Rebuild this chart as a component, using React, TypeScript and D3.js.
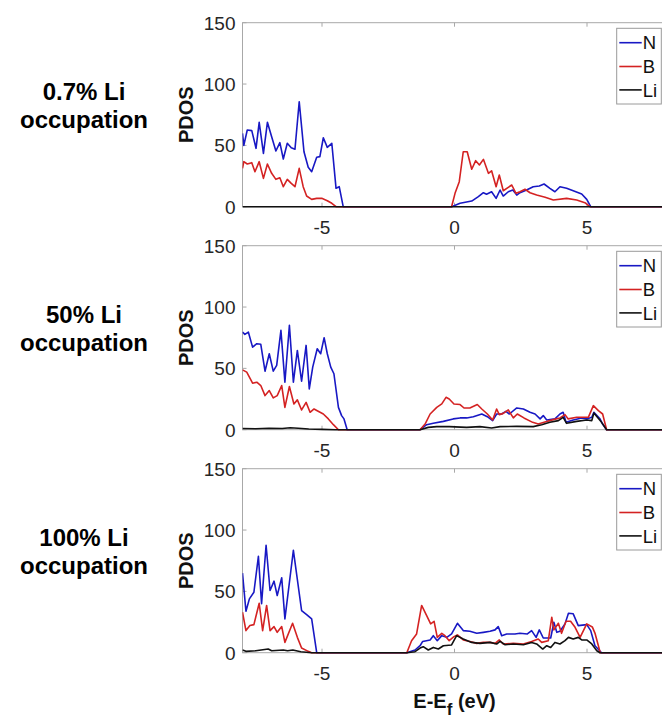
import React from "react";
import * as d3 from "d3";

type Pt = [number, number];

// Panel row labels
const PANEL_LABELS: string[][] = [
  ["0.7% Li", "occupation"],
  ["50% Li", "occupation"],
  ["100% Li", "occupation"],
];
const SERIES_NAMES = ["N", "B", "Li"];
const SERIES_COLORS = ["#1818c4", "#d42222", "#111111"];
const X_TICKS = [-5, 0, 5];
const Y_TICKS = [0, 50, 100, 150];

// 0.7% Li occupation: [energy (eV), PDOS]
const occ07N: Pt[] = [
  [-8, 59.8], [-7.95, 50], [-7.82, 62.5], [-7.65, 62], [-7.49, 47.6], [-7.37, 68.8], [-7.21, 43.5],
  [-7.06, 68.8], [-6.9, 57], [-6.74, 45.4], [-6.59, 52.2], [-6.46, 38.9], [-6.31, 51.7], [-6.16, 48],
  [-6.02, 46.8], [-5.86, 85.6], [-5.68, 44.8], [-5.52, 32.1], [-5.39, 28.5], [-5.2, 40.3], [-5.08, 40.8],
  [-4.95, 56.2], [-4.8, 48.4], [-4.63, 51.7], [-4.47, 15], [-4.35, 16.3], [-4.2, 0],
  [-0.11, 0], [0.21, 2.8], [0.65, 4.6], [0.9, 8.2], [1.09, 11.4], [1.21, 10.1], [1.4, 12.2], [1.57, 6.8],
  [1.72, 13.6], [1.84, 8.7], [2.03, 12.2], [2.2, 13.6], [2.35, 9.5], [2.47, 11.4], [2.72, 13.6],
  [2.97, 16.3], [3.2, 16.9], [3.38, 18.5], [3.6, 15], [3.79, 12.2], [3.98, 16.3], [4.23, 15], [4.48, 13],
  [4.8, 10.4], [4.99, 6], [5.14, 0], [8, 0],
];
const occ07B: Pt[] = [
  [-8, 31.3], [-7.95, 36.7], [-7.82, 34.8], [-7.65, 35.9], [-7.53, 28.5], [-7.37, 36.7], [-7.21, 23.1],
  [-7.06, 34.8], [-6.9, 27.2], [-6.74, 22.3], [-6.59, 23.6], [-6.46, 16.3], [-6.31, 22.3], [-6.16, 19],
  [-6.02, 16.3], [-5.86, 31.3], [-5.71, 16.3], [-5.58, 8.7], [-5.39, 6], [-5.2, 6.8], [-5.01, 6.8],
  [-4.8, 4.9], [-4.63, 2.8], [-4.47, 0],
  [-0.11, 0], [0.02, 10.9], [0.18, 20.4], [0.33, 44.8], [0.48, 44.8], [0.65, 30.5], [0.8, 37.5],
  [0.94, 34], [1.09, 38.6], [1.28, 27.2], [1.4, 29.3], [1.57, 16.3], [1.69, 25.8], [1.84, 13],
  [2.03, 15.8], [2.16, 17.7], [2.32, 10.9], [2.47, 12.2], [2.66, 14.2], [2.85, 11.4], [3.1, 9.5],
  [3.42, 7.7], [3.73, 5.5], [4.23, 6.8], [4.61, 5.5], [4.92, 3.3], [5.11, 0], [8, 0],
];
const occ07Li: Pt[] = [[-8, 0], [8, 0]];

// 50% Li occupation
const occ50N: Pt[] = [
  [-8, 79.6], [-7.91, 77.7], [-7.78, 79.6], [-7.62, 67.3], [-7.46, 70.1], [-7.31, 69.6], [-7.15, 47.7],
  [-6.99, 61.9], [-6.84, 47.7], [-6.71, 52.4], [-6.55, 81], [-6.4, 38.7], [-6.23, 85.1], [-6.08, 38.7],
  [-5.93, 64.6], [-5.77, 39.5], [-5.6, 68.7], [-5.48, 33.3], [-5.35, 51], [-5.18, 66], [-5.05, 61.9],
  [-4.92, 75], [-4.8, 61.9], [-4.67, 51], [-4.55, 45.6], [-4.38, 18.2], [-4.26, 11.5], [-4.17, 8.8],
  [-4.05, 0],
  [-1.3, 0], [-1.05, 4.1], [-0.8, 5.2], [-0.42, 6.8], [-0.05, 8.8], [0.21, 9.6], [0.46, 9.6],
  [0.71, 10.6], [1.03, 12.8], [1.24, 10.6], [1.44, 7.4], [1.59, 12.8], [1.78, 12.8], [1.94, 15],
  [2.07, 12.8], [2.35, 17.7], [2.6, 16.9], [2.85, 14.2], [3.04, 12.8], [3.23, 8.8], [3.35, 11.5],
  [3.48, 7.9], [3.79, 8.8], [3.98, 12.8], [4.1, 14.2], [4.21, 6], [4.48, 7.9], [4.8, 9.5], [4.99, 8.8],
  [5.18, 10.1], [5.26, 14.2], [5.49, 8.8], [5.59, 4.6], [5.74, 0], [8, 0],
];
const occ50B: Pt[] = [
  [-8, 48.8], [-7.84, 46.9], [-7.62, 37.9], [-7.46, 38.7], [-7.31, 36], [-7.15, 27.8], [-6.99, 31.9],
  [-6.84, 25.9], [-6.69, 27.8], [-6.52, 36], [-6.4, 18.2], [-6.23, 35.2], [-6.06, 21], [-5.93, 24.3],
  [-5.77, 16.1], [-5.6, 22.3], [-5.45, 14.2], [-5.3, 16.9], [-5.18, 15.5], [-4.95, 12.8], [-4.76, 8.8],
  [-4.57, 4.1], [-4.38, 0],
  [-1.3, 0], [-1.11, 4.6], [-0.92, 12.8], [-0.67, 18.2], [-0.48, 21], [-0.32, 26.4], [-0.2, 25],
  [-0.02, 21], [0.21, 20.5], [0.36, 17.7], [0.58, 17.7], [0.86, 20.5], [1.03, 16.9], [1.24, 12.8],
  [1.44, 7.9], [1.59, 16.9], [1.69, 12.3], [1.84, 13.3], [2.03, 16.1], [2.22, 9.6], [2.37, 12.8],
  [2.62, 9.6], [2.95, 6], [3.16, 4.6], [3.38, 6], [3.73, 8.2], [3.98, 9.6], [4.17, 12.3], [4.29, 8.8],
  [4.61, 10.1], [5.05, 10.1], [5.24, 19.6], [5.43, 15.5], [5.59, 12.8], [5.74, 0], [8, 0],
];
const occ50Li: Pt[] = [
  [-8, 1], [-7.5, 0.8], [-7, 1.2], [-6.5, 1], [-6.2, 1.6], [-5.9, 1.2], [-5.5, 0.6], [-5, 0.3], [-4.5, 0],
  [-1.3, 0], [-0.99, 1.9], [-0.67, 2.5], [-0.2, 2.5], [0.46, 1.9], [0.96, 2.5], [1.4, 1.4], [1.72, 2.5],
  [2.35, 2.7], [2.97, 2.5], [3.29, 4.1], [3.6, 6], [3.92, 7.4], [4.1, 10.1], [4.23, 5.2], [4.61, 6.8],
  [4.99, 7.9], [5.18, 7.4], [5.26, 13.6], [5.55, 6], [5.74, 0], [8, 0],
];

// 100% Li occupation
const occ100N: Pt[] = [
  [-8, 64.9], [-7.87, 33.8], [-7.74, 43.9], [-7.57, 49.3], [-7.4, 78.6], [-7.28, 39.9], [-7.11, 87.6],
  [-6.96, 50.7], [-6.81, 58.3], [-6.69, 46.6], [-6.52, 61.1], [-6.4, 27.6], [-6.08, 83.5],
  [-5.77, 34.4], [-5.58, 31.1], [-5.39, 27.6], [-5.2, 0],
  [-1.8, 0], [-1.49, 2.2], [-1.3, 5.7], [-1.2, 9.2], [-0.92, 10.4], [-0.8, 13.9], [-0.65, 9.8],
  [-0.48, 13.9], [-0.29, 12.5], [-0.11, 15.3], [0.11, 24], [0.33, 18], [0.58, 17.5], [0.84, 15.8],
  [1.09, 16.6], [1.34, 17.5], [1.53, 18.6], [1.65, 21.3], [1.78, 13.9], [1.97, 15.3], [2.28, 15.3],
  [2.47, 15.8], [2.75, 15.3], [2.91, 18], [3.08, 12.5], [3.2, 18.6], [3.35, 12], [3.63, 12],
  [3.75, 24.8], [3.86, 16.6], [3.98, 17.5], [4.17, 23.5], [4.3, 32.2], [4.48, 31.7], [4.67, 22.1],
  [4.99, 22.9], [5.14, 18], [5.3, 5.7], [5.55, 0], [8, 0],
];
const occ100B: Pt[] = [
  [-8, 33], [-7.87, 18], [-7.72, 22.1], [-7.57, 22.9], [-7.37, 40.3], [-7.24, 18], [-7.09, 38.5],
  [-6.96, 18], [-6.81, 21.3], [-6.69, 16.6], [-6.52, 21.3], [-6.4, 8.4], [-6.11, 24], [-5.93, 12.5],
  [-5.77, 3.8], [-5.52, 1.1], [-5.39, 0],
  [-1.8, 0], [-1.62, 9.8], [-1.43, 15.3], [-1.24, 38.5], [-1.05, 30.3], [-0.9, 23.5], [-0.77, 25.6],
  [-0.65, 12.5], [-0.48, 15.8], [-0.36, 13.9], [-0.2, 9.8], [-0.02, 13.1], [0.11, 14.5], [0.33, 10.4],
  [0.58, 9.2], [0.84, 7.6], [1.09, 8.4], [1.34, 8.4], [1.53, 7.6], [1.69, 10.4], [1.84, 7.1],
  [2.22, 7.6], [2.6, 7.1], [2.91, 9.2], [3.16, 11.2], [3.29, 8.4], [3.54, 9.8], [3.67, 28.9],
  [3.75, 18.6], [3.92, 24], [4.04, 15.8], [4.21, 25.6], [4.38, 25.6], [4.55, 20.7], [4.74, 12.5],
  [4.99, 23.5], [5.2, 21], [5.3, 16], [5.5, 0], [8, 0],
];
const occ100Li: Pt[] = [
  [-8, 2.2], [-7.87, 1.1], [-7.5, 1.6], [-7.03, 3], [-6.9, 1.6], [-6.46, 2.2], [-6.3, 1.6], [-6.1, 2.2],
  [-5.8, 0.8], [-5.39, 0],
  [-1.8, 0], [-1.49, 0.8], [-1.3, 3.8], [-1.18, 4.9], [-0.99, 2.2], [-0.8, 4.3], [-0.61, 3], [-0.42, 5.7],
  [-0.11, 6.3], [0.08, 13.9], [0.33, 11.2], [0.65, 8.4], [0.96, 7.6], [1.34, 8.4], [1.59, 7.1],
  [1.72, 9.2], [1.91, 6.5], [2.22, 7.1], [2.6, 6.5], [2.91, 8.4], [3.1, 7.1], [3.33, 3], [3.48, 5.7],
  [3.63, 4.3], [3.79, 8.4], [3.98, 7.1], [4.17, 9.8], [4.3, 12.5], [4.48, 11.2], [4.67, 12.5],
  [4.8, 10.4], [4.99, 10.4], [5.18, 7.1], [5.37, 1.6], [5.49, 0], [8, 0],
];

const PANEL_SERIES: Pt[][][] = [
  [occ07N, occ07B, occ07Li],
  [occ50N, occ50B, occ50Li],
  [occ100N, occ100B, occ100Li],
];

const W = 662;
const H = 719;
const PLOT_LEFT = 242.5;
const PLOT_RIGHT = 666.5;
const PANEL_TOPS = [22.7, 245.7, 468.7];
const PANEL_H = 184;
const FONT = "'Liberation Sans', Arial, Helvetica, sans-serif";
const AXIS_GRAY = "#a8a8a8";
const TEXT_COLOR = "#262626";

function Panel({ index }: { index: number }) {
  const top = PANEL_TOPS[index];
  const bottom = top + PANEL_H;
  const x = d3.scaleLinear().domain([-8, 8]).range([PLOT_LEFT, PLOT_RIGHT]);
  const y = d3.scaleLinear().domain([0, 150]).range([bottom, top]);
  const line = d3
    .line<Pt>()
    .x((d) => x(d[0]))
    .y((d) => y(d[1]));
  const clipId = `plot-clip-${index}`;
  const midY = (top + bottom) / 2;
  const legTop = top + 5.6;
  const legLeft = 616.7;
  const legRight = 661.3;
  const rowOffsets = [14.4, 38.2, 61.6];
  const tickLen = 4;

  return (
    <g>
      <defs>
        <clipPath id={clipId}>
          <rect x={PLOT_LEFT} y={top - 2} width={PLOT_RIGHT - PLOT_LEFT} height={PANEL_H + 4} />
        </clipPath>
      </defs>
      {/* axes box */}
      <rect
        x={PLOT_LEFT}
        y={top}
        width={PLOT_RIGHT - PLOT_LEFT}
        height={PANEL_H}
        fill="white"
        stroke={AXIS_GRAY}
        strokeWidth={1}
      />
      {/* x ticks, top and bottom, pointing inward */}
      {X_TICKS.map((t) => (
        <g key={`xt${t}`}>
          <line x1={x(t)} x2={x(t)} y1={bottom} y2={bottom - tickLen} stroke={AXIS_GRAY} />
          <line x1={x(t)} x2={x(t)} y1={top} y2={top + tickLen} stroke={AXIS_GRAY} />
          <text
            x={x(t)}
            y={bottom + 27}
            textAnchor="middle"
            fontSize={19}
            fontFamily={FONT}
            fill={TEXT_COLOR}
          >
            {t}
          </text>
        </g>
      ))}
      {/* y ticks, left and right */}
      {Y_TICKS.map((t) => (
        <g key={`yt${t}`}>
          <line x1={PLOT_LEFT} x2={PLOT_LEFT + tickLen} y1={y(t)} y2={y(t)} stroke={AXIS_GRAY} />
          <line x1={PLOT_RIGHT} x2={PLOT_RIGHT - tickLen} y1={y(t)} y2={y(t)} stroke={AXIS_GRAY} />
          <text
            x={PLOT_LEFT - 7}
            y={y(t) + 7}
            textAnchor="end"
            fontSize={19}
            fontFamily={FONT}
            fill={TEXT_COLOR}
          >
            {t}
          </text>
        </g>
      ))}
      {/* PDOS curves */}
      <g clipPath={`url(#${clipId})`}>
        {PANEL_SERIES[index].map((s, i) => (
          <path
            key={SERIES_NAMES[i]}
            d={line(s) || ""}
            fill="none"
            stroke={SERIES_COLORS[i]}
            strokeWidth={1.6}
            strokeLinejoin="round"
          />
        ))}
      </g>
      {/* y axis title */}
      <text
        transform={`translate(193.3,${midY}) rotate(-90)`}
        textAnchor="middle"
        fontSize={20}
        fontWeight="bold"
        fontFamily={FONT}
        fill="#111"
      >
        PDOS
      </text>
      {/* row label */}
      <text textAnchor="middle" fontSize={24} fontWeight="bold" fontFamily={FONT} fill="#000">
        <tspan x={84} y={midY - 15}>
          {PANEL_LABELS[index][0]}
        </tspan>
        <tspan x={84} y={midY + 13}>
          {PANEL_LABELS[index][1]}
        </tspan>
      </text>
      {/* legend */}
      <rect
        x={legLeft}
        y={legTop}
        width={legRight - legLeft}
        height={75.7}
        fill="white"
        stroke="#9a9a9a"
        strokeWidth={1}
      />
      {SERIES_NAMES.map((name, i) => (
        <g key={`leg${name}`}>
          <line
            x1={619.3}
            x2={641.7}
            y1={legTop + rowOffsets[i]}
            y2={legTop + rowOffsets[i]}
            stroke={SERIES_COLORS[i]}
            strokeWidth={1.6}
          />
          <text
            x={642.8}
            y={legTop + rowOffsets[i] + 6.6}
            fontSize={18.5}
            fontFamily={FONT}
            fill="#111"
          >
            {name}
          </text>
        </g>
      ))}
    </g>
  );
}

export default function App() {
  return (
    <>
      <style>{"body{margin:0;}"}</style>
      <svg width={W} height={H} viewBox={`0 0 ${W} ${H}`} style={{ display: "block", background: "white" }}>
        {PANEL_TOPS.map((_, i) => (
          <Panel key={i} index={i} />
        ))}
        <text
          x={454.5}
          y={707.5}
          textAnchor="middle"
          fontSize={20}
          fontWeight="bold"
          fontFamily={FONT}
          fill="#111"
        >
          E-E
          <tspan fontSize={17} dy={7}>
            f
          </tspan>
          <tspan dy={-7}> (eV)</tspan>
        </text>
      </svg>
    </>
  );
}
